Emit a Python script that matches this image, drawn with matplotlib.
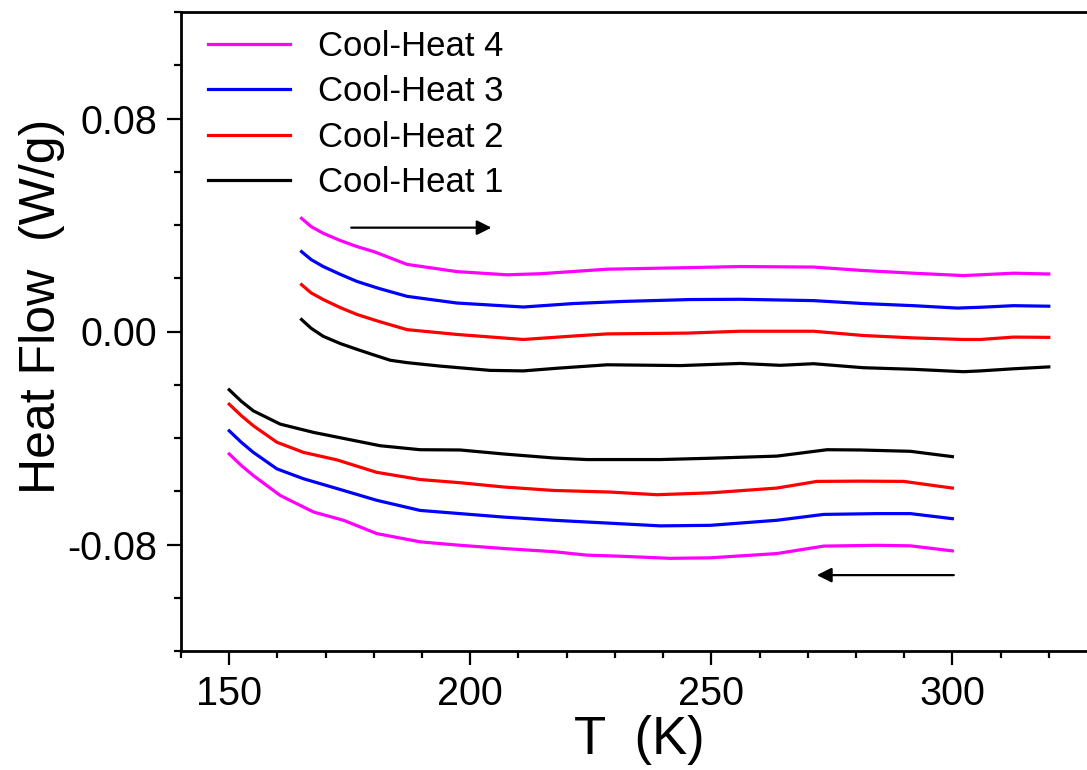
import matplotlib
matplotlib.use("Agg")
import matplotlib.pyplot as plt
from matplotlib.ticker import MultipleLocator, FormatStrFormatter

plt.rcParams['font.family'] = ['Liberation Sans', 'DejaVu Sans']
plt.rcParams['axes.unicode_minus'] = False

# ---- data (T in K, heat flow in W/g) ----
labels = ["Cool-Heat 1", "Cool-Heat 2", "Cool-Heat 3", "Cool-Heat 4"]
colors = ["#000000", "#ff0000", "#0000ff", "#ff00ff"]

# heating segments (165 -> 320 K)
heat1_T = [165, 167, 169.5, 173, 176.5, 180, 183.4, 186.9, 193.8, 204.1, 211, 218, 228.4, 243.6, 256, 264.3, 271.2, 281.5, 291.9, 302.3, 305.8, 312.7, 320]
heat1_HF = [0.0045, 0.0012, -0.0018, -0.0045, -0.0067, -0.0088, -0.0108, -0.0117, -0.0130, -0.0146, -0.0148, -0.0138, -0.0125, -0.0128, -0.0120, -0.0127, -0.0121, -0.0136, -0.0142, -0.0151, -0.0148, -0.0140, -0.0133]

heat2_T = [165, 167, 169.5, 173, 176.5, 181, 186.9, 197.2, 211, 221.4, 228.4, 245, 256, 271.2, 281.5, 291.9, 302.3, 305.8, 312.7, 320]
heat2_HF = [0.0176, 0.0145, 0.0120, 0.0090, 0.0064, 0.0038, 0.0007, -0.0011, -0.0030, -0.0017, -0.0009, -0.0006, 0.0001, 0.0001, -0.0015, -0.0024, -0.0030, -0.0030, -0.0021, -0.0022]

heat3_T = [165, 167, 169.5, 173, 176.5, 181, 186.9, 197.2, 211, 221.4, 231.8, 245.6, 256, 271.2, 281.5, 291.9, 301, 305.8, 312.7, 320]
heat3_HF = [0.0300, 0.0270, 0.0244, 0.0215, 0.0188, 0.0162, 0.0132, 0.0107, 0.0092, 0.0105, 0.0113, 0.0120, 0.0121, 0.0116, 0.0105, 0.0097, 0.0088, 0.0091, 0.0097, 0.0095]

heat4_T = [165, 167, 169.5, 173, 176.5, 180, 186.9, 197.2, 207.6, 214.5, 228.4, 245.6, 256, 271.2, 281.5, 291.9, 302.3, 312.7, 320]
heat4_HF = [0.0425, 0.0394, 0.0369, 0.0342, 0.0319, 0.0300, 0.0252, 0.0225, 0.0213, 0.0217, 0.0234, 0.0240, 0.0244, 0.0242, 0.0229, 0.0219, 0.0210, 0.0219, 0.0216]

# cooling segments (300 -> 150 K)
cool1_T = [150, 152.5, 155, 160.6, 167.5, 174.4, 181.3, 189.6, 197.9, 206.9, 217.3, 224.2, 231.1, 239.4, 249.8, 263.6, 267.1, 274, 280.9, 291.3, 300]
cool1_HF = [-0.0219, -0.0262, -0.0298, -0.0348, -0.0379, -0.0404, -0.0429, -0.0444, -0.0445, -0.0460, -0.0475, -0.0481, -0.0481, -0.0481, -0.0476, -0.0468, -0.0460, -0.0444, -0.0445, -0.0450, -0.0470]

cool2_T = [150, 152.5, 155, 159.9, 165.4, 172.3, 180.6, 189.6, 197.9, 206.9, 217.3, 229, 238.7, 249.8, 263.6, 271.9, 280.9, 289.9, 300]
cool2_HF = [-0.0273, -0.0316, -0.0354, -0.0416, -0.0454, -0.0482, -0.0529, -0.0556, -0.0568, -0.0584, -0.0597, -0.0603, -0.0613, -0.0606, -0.0588, -0.0563, -0.0562, -0.0563, -0.0588]

cool3_T = [150, 152.5, 155, 159.9, 165.4, 173.7, 180.6, 189.6, 197.9, 206.9, 217.3, 229, 239.4, 249.8, 263.6, 273.3, 284.4, 291.3, 300]
cool3_HF = [-0.0373, -0.0416, -0.0454, -0.0516, -0.0553, -0.0597, -0.0634, -0.0672, -0.0684, -0.0697, -0.0709, -0.0720, -0.0730, -0.0728, -0.0709, -0.0687, -0.0684, -0.0684, -0.0703]

cool4_T = [150, 152.5, 155, 160.6, 167.5, 173.7, 180.6, 189.6, 197.9, 206.9, 217.3, 224.2, 231.1, 241.5, 249.8, 263.6, 273.3, 284.4, 291.3, 300]
cool4_HF = [-0.0460, -0.0503, -0.0541, -0.0616, -0.0678, -0.0709, -0.0759, -0.0790, -0.0803, -0.0815, -0.0827, -0.0840, -0.0844, -0.0852, -0.0850, -0.0834, -0.0806, -0.0803, -0.0805, -0.0824]

heat_T = [heat1_T, heat2_T, heat3_T, heat4_T]
heat_HF = [heat1_HF, heat2_HF, heat3_HF, heat4_HF]
cool_T = [cool1_T, cool2_T, cool3_T, cool4_T]
cool_HF = [cool1_HF, cool2_HF, cool3_HF, cool4_HF]

# arrows (direction of scan)
arrow_heat = ((175.3, 0.039), (204.4, 0.039))
arrow_cool = ((300.3, -0.0915), (271.9, -0.0915))

# ---- figure ----
fig = plt.figure(figsize=(10.87, 7.70), dpi=100)
ax = fig.add_axes([181 / 1087, 1 - 651 / 770, 916 / 1087, 639 / 770])

handles = {}
for i in range(4):
    h, = ax.plot(heat_T[i], heat_HF[i], color=colors[i], lw=2.3, label=labels[i],
                 solid_joinstyle='round')
    ax.plot(cool_T[i], cool_HF[i], color=colors[i], lw=2.3, solid_joinstyle='round')
    handles[i] = h

for (start, end) in (arrow_heat, arrow_cool):
    ax.annotate("", xy=end, xytext=start,
                arrowprops=dict(arrowstyle="-|>", color="black", lw=1.6,
                                mutation_scale=22, shrinkA=0, shrinkB=0))

ax.set_xlim(140, 330)
ax.set_ylim(-0.12, 0.12)

ax.xaxis.set_major_locator(MultipleLocator(50))
ax.xaxis.set_minor_locator(MultipleLocator(10))
ax.yaxis.set_major_locator(MultipleLocator(0.08))
ax.yaxis.set_minor_locator(MultipleLocator(0.02))
ax.yaxis.set_major_formatter(FormatStrFormatter('%.2f'))

ax.tick_params(which='major', direction='out', length=10, width=1.6, labelsize=28.5, pad=7)
ax.tick_params(which='minor', direction='out', length=5, width=1.6)
ax.tick_params(top=False, right=False, which='both')

for s in ['left', 'bottom', 'top']:
    ax.spines[s].set_linewidth(2.0)
ax.spines['right'].set_visible(False)

ax.set_xlabel("T  (K)", fontsize=38)
ax.set_ylabel("Heat Flow  (W/g)", fontsize=36)
ax.xaxis.set_label_coords(0.5, -0.1)
ax.yaxis.set_label_coords(-0.127, 0.54)

leg = ax.legend([handles[3], handles[2], handles[1], handles[0]],
                [labels[3], labels[2], labels[1], labels[0]],
                loc='upper left', bbox_to_anchor=(0.03, 0.972), frameon=False,
                fontsize=25, handlelength=2.35, handletextpad=0.8,
                labelspacing=0.36, borderpad=0, borderaxespad=0)

fig.savefig("out.png", dpi=100)
